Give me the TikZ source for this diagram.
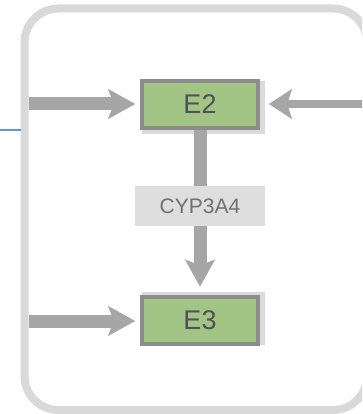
\documentclass[tikz,border=0pt]{standalone}
\usepackage{fontspec}
\setmainfont{Liberation Sans}
\usetikzlibrary{arrows.meta}
\definecolor{framegray}{HTML}{D9D9D9}
\definecolor{flowgray}{HTML}{A6A6A6}
\definecolor{boxgreen}{HTML}{A2C585}
\definecolor{boxedge}{HTML}{8C8C8C}
\definecolor{labelfill}{HTML}{DEDEDE}
\definecolor{textdark}{HTML}{4F5058}
\definecolor{textgray}{HTML}{707070}
\definecolor{linkblue}{HTML}{5B9BD5}
\definecolor{shadowgray}{HTML}{DADADA}
\tikzset{
  species/.style={draw=boxedge, line width=4pt, fill=boxgreen, minimum width=116pt,
    minimum height=47pt, inner sep=0pt, text=textdark, font=\fontsize{27}{27}\selectfont},
  enzyme/.style={fill=labelfill, minimum width=130pt, minimum height=40pt, inner sep=0pt,
    text=textgray, font=\fontsize{21}{21}\selectfont},
  flow/.style={draw=flowgray, line width=13pt,
    -{Stealth[length=27pt,width=30pt,inset=6pt,line width=0.01pt]}},
  thinflow/.style={draw=flowgray, line width=8pt,
    -{Stealth[length=23pt,width=30pt,inset=5pt,line width=0.01pt]}},
}
\begin{document}
\begin{tikzpicture}[x=1pt,y=-1pt]
  \useasboundingbox (0,0) rectangle (362,414);
  \clip (0,0) rectangle (362,414);
  % compartment frame
  \draw[framegray, line width=8pt, rounded corners=34pt] (24.5,8.5) rectangle (367,410);
  % short blue link at the left edge
  \coordinate (b0) at (0,130);
  \coordinate (b1) at (20.5,130);
  \draw[linkblue, line width=1.5pt] (b0) -- (b1);
  % light offset behind the species boxes
  \fill[shadowgray] (142,81) rectangle (265,134);
  \fill[shadowgray] (142,292) rectangle (265,345);
  % species
  \node[species] (e2) at (200,104.5) {E2};
  \node[species] (e3) at (200,320) {E3};
  % inflows
  \coordinate (in2) at (29,104);
  \coordinate (in3) at (29,321);
  \coordinate (inr) at (370,104);
  \draw[flow, shorten >=5pt] (in2) -- (in2 -| e2.west);
  \draw[flow, shorten >=5pt] (in3) -- (in3 -| e3.west);
  \draw[thinflow, shorten >=9pt] (inr) -- (inr -| e2.east);
  % conversion E2 -> E3
  \draw[flow, shorten >=8pt] (e2.south) -- (e3.north);
  \node[enzyme] (cyp) at (200,206) {CYP3A4};
\end{tikzpicture}
\end{document}
